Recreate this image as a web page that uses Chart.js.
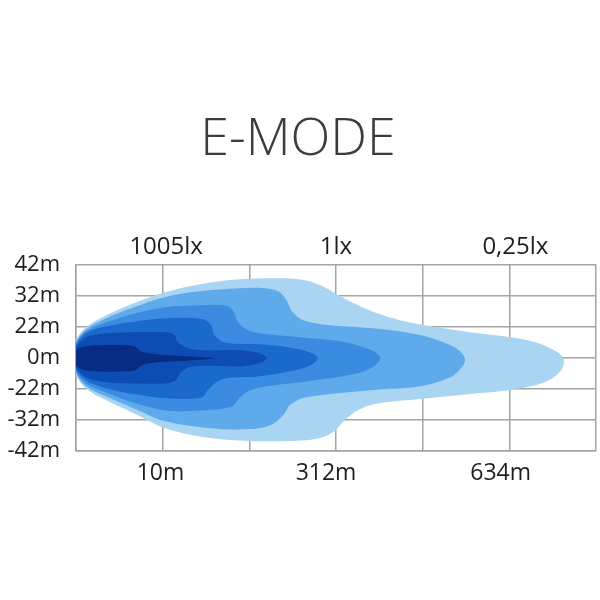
<!DOCTYPE html>
<html>
<head>
<meta charset="utf-8">
<script src="https://cdn.jsdelivr.net/npm/chart.js@4.4.0/dist/chart.umd.min.js"></script>
<style>
html,body{margin:0;padding:0;background:#ffffff;}
#wrap{width:600px;height:600px;position:relative;}
canvas{display:block;}
</style>
</head>
<body>
<div id="wrap"><canvas id="c" width="600" height="600"></canvas></div>
<script>
// ---- texts ----
const titleText = 'E-MODE';
const yTickLabels = ['-42m', '-32m', '-22m', '0m', '22m', '32m', '42m']; // values -3..3
const topLabels = ['1005lx', '1lx', '0,25lx'];
const bottomLabels = ['10m', '312m', '634m'];

// ---- isolux contours (x: grid columns 0..6, y: grid rows -3..3) ----
const level1X = [-0.05,0.00,0.115,0.35,0.69,1.03,1.43,1.89,2.35,2.64,2.84,3.05,3.28,3.51,3.74,4.08,4.55,5.01,5.30,5.49,5.61,5.63,5.58,5.41,5.01,4.55,3.97,3.51,3.28,3.10,2.97,2.76,2.47,2.01,1.55,1.03,0.69,0.35,0.115,0.00,-0.05];
const level1Y = [0.00,0.55,0.97,1.36,1.77,2.10,2.36,2.52,2.55,2.49,2.30,1.97,1.65,1.39,1.20,1.01,0.81,0.65,0.49,0.27,0.04,-0.18,-0.47,-0.80,-1.05,-1.18,-1.34,-1.47,-1.66,-2.02,-2.40,-2.63,-2.69,-2.69,-2.60,-2.28,-1.83,-1.38,-1.00,-0.57,0.00];

const level2X = [-0.04,0.00,0.115,0.35,0.69,1.03,1.43,1.89,2.18,2.33,2.42,2.50,2.62,2.93,3.43,3.97,4.26,4.43,4.49,4.43,4.32,3.97,3.43,2.67,2.48,2.39,2.25,2.01,1.55,1.03,0.69,0.35,0.115,0.00,-0.04];
const level2Y = [0.00,0.49,0.90,1.26,1.64,1.95,2.13,2.23,2.23,2.13,1.88,1.46,1.20,1.04,0.94,0.72,0.46,0.20,-0.09,-0.38,-0.64,-0.93,-1.05,-1.28,-1.51,-1.86,-2.18,-2.31,-2.28,-2.06,-1.67,-1.26,-0.93,-0.50,0.00];

const level3X = [-0.03,0.00,0.115,0.35,0.69,1.03,1.43,1.72,1.81,1.87,1.98,2.12,2.58,3.05,3.28,3.45,3.51,3.45,3.24,2.67,2.18,2.01,1.89,1.80,1.43,1.03,0.69,0.35,0.115,0.00,-0.03];
const level3Y = [0.00,0.45,0.84,1.13,1.42,1.62,1.68,1.68,1.52,1.13,0.88,0.78,0.65,0.52,0.36,0.17,-0.02,-0.26,-0.52,-0.77,-0.94,-1.06,-1.29,-1.58,-1.71,-1.71,-1.48,-1.13,-0.84,-0.45,0.00];

const level4X = [-0.02,0.00,0.115,0.35,0.69,1.03,1.47,1.56,1.60,1.72,2.12,2.47,2.70,2.79,2.70,2.47,2.12,1.72,1.60,1.52,1.45,1.03,0.69,0.35,0.115,0.00,-0.02];
const level4Y = [0.00,0.39,0.78,1.00,1.16,1.26,1.23,1.03,0.71,0.48,0.42,0.32,0.16,-0.02,-0.26,-0.45,-0.61,-0.68,-0.84,-1.06,-1.29,-1.32,-1.19,-1.00,-0.74,-0.39,0.00];

const level5X = [-0.02,0.00,0.115,0.35,0.69,1.03,1.13,1.18,1.34,1.89,2.12,2.20,2.12,1.89,1.34,1.21,1.15,1.03,0.69,0.35,0.115,0.00,-0.02];
const level5Y = [0.00,0.32,0.65,0.78,0.81,0.81,0.74,0.48,0.26,0.23,0.13,-0.02,-0.19,-0.29,-0.29,-0.48,-0.74,-0.84,-0.84,-0.80,-0.64,-0.32,0.00];

const level6X = [-0.03,0.00,0.115,0.62,0.70,0.75,0.93,1.32,1.59,1.32,0.93,0.75,0.70,0.62,0.115,0.00,-0.03];
const level6Y = [0.00,0.23,0.36,0.39,0.32,0.19,0.10,0.03,-0.03,-0.10,-0.16,-0.26,-0.39,-0.45,-0.42,-0.26,0.00];

// ---- styles ----
const levelColors = ['#a9d4f2', '#5eaaea', '#3b8ce0', '#1c69ce', '#0d4db3', '#072c84'];
const gridColor = '#a4a4a4';
const textColor = '#1e1e1e';
const topTickPos = [1.04, 3.0, 5.07];
const bottomTickPos = [0.975, 2.885, 4.90];

const levels = [
  [level1X, level1Y], [level2X, level2Y], [level3X, level3Y],
  [level4X, level4Y], [level5X, level5Y], [level6X, level6Y]
];

const datasets = levels.map((lv, i) => ({
  label: 'level ' + (i + 1),
  data: lv[0].map((x, k) => ({ x: x, y: lv[1][k] })),
  showLine: true,
  fill: 'shape',
  backgroundColor: levelColors[i],
  borderColor: levelColors[i],
  borderWidth: 0,
  pointRadius: 0,
  pointHoverRadius: 0,
  tension: 0.35,
  order: levels.length - i
}));

const font = (size) => ({ family: "'Open Sans', 'DejaVu Sans', sans-serif", size: size, weight: 'normal', lineHeight: 1.2 });

new Chart(document.getElementById('c'), {
  type: 'scatter',
  data: { datasets: datasets },
  options: {
    responsive: false,
    animation: false,
    devicePixelRatio: 1,
    layout: { padding: { left: 0, right: 4, top: 0, bottom: 0 } },
    plugins: {
      legend: { display: false },
      tooltip: { enabled: false },
      title: {
        display: true,
        text: titleText,
        color: '#3c3c3c',
        font: { family: "'Open Sans', 'DejaVu Sans', sans-serif", size: 52, weight: 300, lineHeight: 1.2 },
        padding: { top: 109, bottom: 0 }
      }
    },
    scales: {
      x: {
        type: 'linear', position: 'bottom', min: 0, max: 6,
        ticks: { display: false, stepSize: 1 },
        grid: { color: gridColor, lineWidth: 1.5, drawTicks: false },
        border: { display: true, color: gridColor, width: 1.5 },
        afterFit: (s) => { s.height = 0; }
      },
      xb: {
        type: 'linear', position: 'bottom', min: 0, max: 6,
        afterBuildTicks: (s) => { s.ticks = bottomTickPos.map(v => ({ value: v })); },
        ticks: { color: textColor, font: font(23), padding: 9, maxRotation: 0, autoSkip: false,
                 callback: (v, i) => bottomLabels[i] },
        grid: { display: false, drawTicks: false },
        border: { display: false },
        afterFit: (s) => { s.height = 149.5; }
      },
      xt: {
        type: 'linear', position: 'top', min: 0, max: 6,
        afterBuildTicks: (s) => { s.ticks = topTickPos.map(v => ({ value: v })); },
        ticks: { color: textColor, font: font(24), padding: 3, maxRotation: 0, autoSkip: false,
                 callback: (v, i) => topLabels[i] },
        grid: { display: false, drawTicks: false },
        border: { display: false },
        afterFit: (s) => { s.height = 92.9; }
      },
      y: {
        type: 'linear', position: 'left', min: -3, max: 3,
        ticks: { color: textColor, font: font(22), padding: 16, stepSize: 1, autoSkip: false,
                 callback: (v) => yTickLabels[Math.round(v) + 3] },
        grid: { color: gridColor, lineWidth: 1.5, drawTicks: false },
        border: { display: true, color: gridColor, width: 1.5 },
        afterFit: (s) => { s.width = 76; }
      }
    }
  }
});
</script>
</body>
</html>
